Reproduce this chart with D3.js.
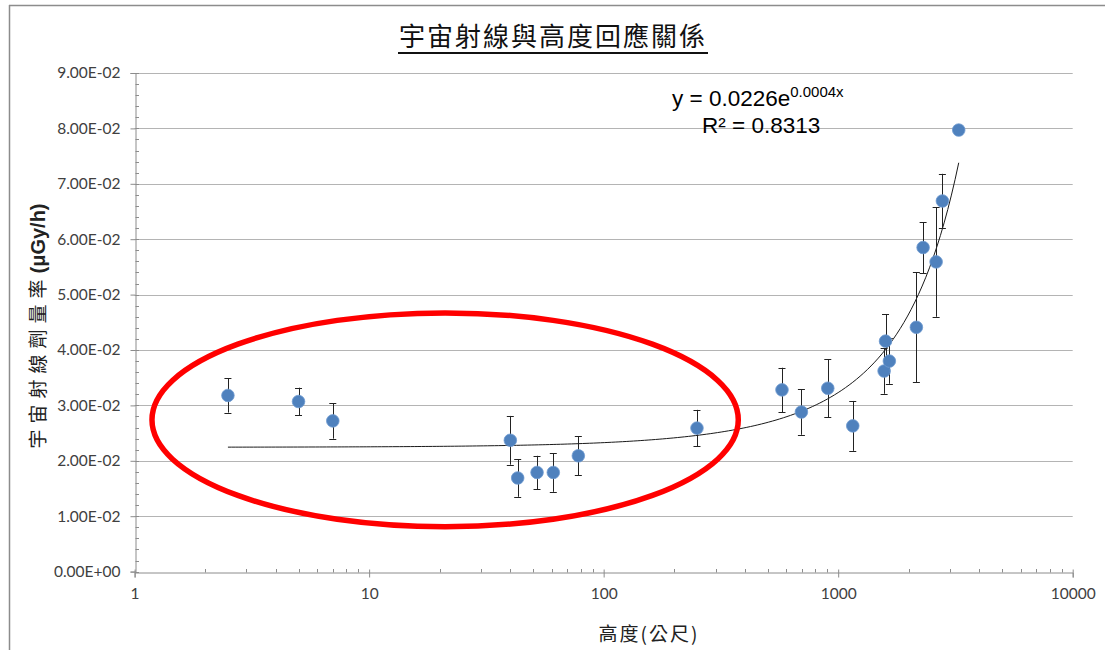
<!DOCTYPE html>
<html>
<head>
<meta charset="utf-8">
<script src="https://cdn.jsdelivr.net/npm/d3@7"></script>
<style>
  body { margin: 0; background: #fff; }
  svg { display: block; }
</style>
</head>
<body>
<div id="chart"></div>
<script>
// altitude (m) of each measuring point
var heights = [2.5, 5, 7, 40, 43, 52, 61, 78, 250, 576, 697, 903, 1154, 1570, 1592, 1653, 2155, 2302, 2616, 2782, 3266];
// cosmic ray dose rate (uGy/h)
var doseRates = [0.0318, 0.0307, 0.0272, 0.0237, 0.0169, 0.0179, 0.0179, 0.0209, 0.0259, 0.0328, 0.0288, 0.0331, 0.0263,
    0.0362, 0.0416, 0.0380, 0.0441, 0.0585, 0.0559, 0.0669, 0.0797];
// +/- error of each point
var doseErrors = [0.0031, 0.0025, 0.0032, 0.0044, 0.0034, 0.0030, 0.0035, 0.0035, 0.0033, 0.0040, 0.0041, 0.0052, 0.0045,
    0.0041, 0.0049, 0.0041, 0.0099, 0.0046, 0.0099, 0.0049, 0];

var xTicks = [1, 10, 100, 1000, 10000];
var yTicks = [0, 0.01, 0.02, 0.03, 0.04, 0.05, 0.06, 0.07, 0.08, 0.09];

var titleText = '宇宙射線與高度回應關係';
var xTitle = '高度(公尺)';
var yTitleCjk = '宇宙射線劑量率';
var yTitleUnit = '(μGy/h)';
var eqMain = 'y = 0.0226e';
var eqExp = '0.0004x';
var r2Text = 'R² = 0.8313';

// circled region (data coords): x from, x to, y from, y to
var ellipseX = [1.186, 375];
var ellipseY = [0.0081, 0.0467];

var W = 1105, H = 650;

var svg = d3.select('#chart').append('svg')
    .attr('width', W)
    .attr('height', H);

// outer frame (only top and left visible)
svg.append('line').attr('x1', 9).attr('x2', W).attr('y1', 5.5).attr('y2', 5.5)
    .style('stroke', '#8c8c8c').style('stroke-width', 1.5);
svg.append('line').attr('x1', 9.5).attr('x2', 9.5).attr('y1', 5).attr('y2', H)
    .style('stroke', '#8c8c8c').style('stroke-width', 1.5);

var x = d3.scaleLog().domain([1, 10000]).range([134.6, 1072.7]);
var y = d3.scaleLinear().domain([0, 0.09]).range([571.6, 73]);

// horizontal gridlines
svg.append('g').selectAll('line')
    .data(yTicks.filter(function (d) { return d > 0; }))
    .join('line')
    .attr('x1', x(1)).attr('x2', x(10000))
    .attr('y1', function (d) { return Math.round(y(d)) + 0.5; })
    .attr('y2', function (d) { return Math.round(y(d)) + 0.5; })
    .style('stroke', '#b4b4b4')
    .style('stroke-width', 1);

// y axis
var yAxis = d3.axisLeft(y)
    .tickValues(yTicks)
    .tickSize(5)
    .tickPadding(10)
    .tickFormat(function (d) {
        var s = d3.format('.2e')(d);  // e.g. 9.00e-2
        var parts = s.split('e');
        var ex = +parts[1];
        return parts[0] + 'E' + (ex < 0 ? '-' : '+') + d3.format('02')(Math.abs(ex));
    });

var gy = svg.append('g')
    .attr('transform', 'translate(' + (Math.round(x(1)) + 0.5) + ',0)')
    .call(yAxis);
gy.select('.domain').style('stroke', '#8c8c8c');
gy.selectAll('.tick line').style('stroke', '#8c8c8c');
gy.selectAll('.tick text')
    .style('font-family', 'Lato, "Open Sans", sans-serif')
    .style('font-size', '15.5px')
    .style('fill', '#404040');

// y minor ticks (inside)
var yMinor = d3.range(0, 0.0901, 0.002);
svg.append('g').selectAll('line')
    .data(yMinor)
    .join('line')
    .attr('x1', Math.round(x(1)) + 0.5).attr('x2', Math.round(x(1)) + 4)
    .attr('y1', function (d) { return Math.round(y(d)) + 0.5; })
    .attr('y2', function (d) { return Math.round(y(d)) + 0.5; })
    .style('stroke', '#8c8c8c');

// x axis
var xAxis = d3.axisBottom(x)
    .tickValues(xTicks)
    .tickSize(5)
    .tickPadding(10)
    .tickFormat(d3.format('d'));

var gx = svg.append('g')
    .attr('transform', 'translate(0,' + (Math.round(y(0)) + 0.5) + ')')
    .call(xAxis);
gx.select('.domain').style('stroke', '#8c8c8c');
gx.selectAll('.tick line').attr('y1', -3).style('stroke', '#8c8c8c');
gx.selectAll('.tick text')
    .style('font-family', 'Lato, "Open Sans", sans-serif')
    .style('font-size', '15.5px')
    .style('fill', '#404040');

// x minor ticks 2..9 per decade (inside)
var xMinor = [];
[1, 10, 100, 1000].forEach(function (dec) {
    for (var k = 2; k <= 9; k++) xMinor.push(dec * k);
});
svg.append('g').selectAll('line')
    .data(xMinor)
    .join('line')
    .attr('x1', function (d) { return Math.round(x(d)) + 0.5; })
    .attr('x2', function (d) { return Math.round(x(d)) + 0.5; })
    .attr('y1', Math.round(y(0)) + 0.5).attr('y2', Math.round(y(0)) - 3)
    .style('stroke', '#8c8c8c');

// exponential trendline, least squares on ln(y) like the spreadsheet does
var n = heights.length;
var mx = d3.mean(heights);
var ml = d3.mean(doseRates, function (d) { return Math.log(d); });
var sxy = 0, sxx = 0;
for (var i = 0; i < n; i++) {
    sxy += (heights[i] - mx) * (Math.log(doseRates[i]) - ml);
    sxx += (heights[i] - mx) * (heights[i] - mx);
}
var fitB = sxy / sxx;
var fitA = Math.exp(ml - fitB * mx);

var lx0 = Math.log10(d3.min(heights)), lx1 = Math.log10(d3.max(heights));
var trendPts = d3.range(0, 201).map(function (k) {
    var hx = Math.pow(10, lx0 + (lx1 - lx0) * k / 200);
    return [hx, fitA * Math.exp(fitB * hx)];
});

svg.append('path')
    .datum(trendPts)
    .attr('d', d3.line()
        .x(function (d) { return x(d[0]); })
        .y(function (d) { return y(d[1]); }))
    .style('fill', 'none')
    .style('stroke', '#1a1a1a')
    .style('stroke-width', 1);

// error bars
var pts = heights.map(function (h, i) { return { h: h, v: doseRates[i], e: doseErrors[i] }; });
var errG = svg.append('g').selectAll('g')
    .data(pts.filter(function (d) { return d.e > 0; }))
    .join('g')
    .style('stroke', '#222')
    .style('stroke-width', 1);

errG.append('line')
    .attr('x1', function (d) { return Math.round(x(d.h)) + 0.5; })
    .attr('x2', function (d) { return Math.round(x(d.h)) + 0.5; })
    .attr('y1', function (d) { return y(d.v + d.e); })
    .attr('y2', function (d) { return y(d.v - d.e); });
errG.selectAll('.cap')
    .data(function (d) { return [[d.h, d.v + d.e], [d.h, d.v - d.e]]; })
    .join('line')
    .attr('class', 'cap')
    .attr('x1', function (d) { return x(d[0]) - 3.5; })
    .attr('x2', function (d) { return x(d[0]) + 3.5; })
    .attr('y1', function (d) { return Math.round(y(d[1])) + 0.5; })
    .attr('y2', function (d) { return Math.round(y(d[1])) + 0.5; });

// points
svg.append('g').selectAll('circle')
    .data(pts)
    .join('circle')
    .attr('cx', function (d) { return x(d.h); })
    .attr('cy', function (d) { return y(d.v); })
    .attr('r', 6.3)
    .style('fill', '#4f81bd')
    .style('stroke', '#6f9bd0')
    .style('stroke-width', 0.8);

// red ellipse annotation
var ecx = (x(ellipseX[0]) + x(ellipseX[1])) / 2;
var ecy = (y(ellipseY[0]) + y(ellipseY[1])) / 2;
svg.append('ellipse')
    .attr('cx', ecx)
    .attr('cy', ecy)
    .attr('rx', (x(ellipseX[1]) - x(ellipseX[0])) / 2)
    .attr('ry', (y(ellipseY[0]) - y(ellipseY[1])) / 2)
    .style('fill', 'none')
    .style('stroke', '#ff0000')
    .style('stroke-width', 5.5);

// trend equation
var eq = svg.append('text')
    .attr('x', 672)
    .attr('y', 106)
    .style('font-family', '"Liberation Sans", Arial, sans-serif')
    .style('font-size', '22.5px')
    .style('fill', '#000');
eq.append('tspan').text(eqMain);
eq.append('tspan')
    .attr('dy', -9)
    .style('font-size', '15px')
    .text(eqExp);

svg.append('text')
    .attr('x', 702)
    .attr('y', 133)
    .style('font-family', '"Liberation Sans", Arial, sans-serif')
    .style('font-size', '22.5px')
    .style('fill', '#000')
    .text(r2Text);

// chart title, underlined
svg.append('text')
    .attr('x', 553)
    .attr('y', 46)
    .attr('text-anchor', 'middle')
    .style('font-family', '"Noto Sans CJK TC", sans-serif')
    .style('font-size', '26px')
    .style('letter-spacing', '2px')
    .style('fill', '#111')
    .text(titleText);
svg.append('line')
    .attr('x1', 398).attr('x2', 708)
    .attr('y1', 53).attr('y2', 53)
    .style('stroke', '#111')
    .style('stroke-width', 2);

// x axis title
svg.append('text')
    .attr('x', 649)
    .attr('y', 641)
    .attr('text-anchor', 'middle')
    .style('font-family', '"Noto Sans CJK TC", sans-serif')
    .style('font-size', '19px')
    .style('letter-spacing', '2px')
    .style('fill', '#222')
    .text(xTitle);

// y axis title
var yt = svg.append('text')
    .attr('transform', 'translate(45,326) rotate(-90)')
    .attr('text-anchor', 'middle')
    .style('font-family', '"Noto Sans CJK TC", sans-serif')
    .style('font-size', '19px')
    .style('fill', '#222');
yt.append('tspan').style('letter-spacing', '6px').text(yTitleCjk);
yt.append('tspan')
    .style('font-family', '"Liberation Sans", Arial, sans-serif')
    .style('font-weight', 'bold')
    .style('font-size', '20px')
    .text(yTitleUnit);
</script>
</body>
</html>
